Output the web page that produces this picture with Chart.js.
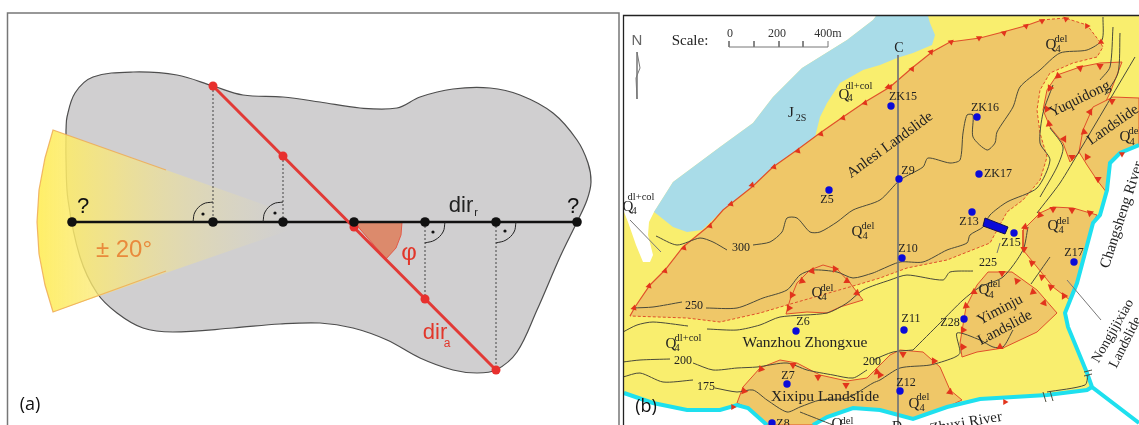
<!DOCTYPE html>
<html><head><meta charset="utf-8">
<style>html,body{margin:0;padding:0;background:#fff;overflow:hidden}canvas{display:block}</style>
<script src="https://cdn.jsdelivr.net/npm/chart.js@4"></script>
</head><body><canvas id="c" width="1139" height="425" style="width:1139px;height:425px"></canvas>
<script>
/* ---- panel (a) ---- */
const blobOutline=[[66,130],[67,117],[75,93],[93,77],[133,72],[177,75],[213,86],[243,95],[283,97],[320,102],[360,108],[397,108],[420,97],[453,89],[490,88],[520,95],[553,113],[577,140],[588,163],[591,182],[587,200],[577,222],[560,257],[537,310],[517,352],[496,370],[477,373],[453,370],[420,358],[387,340],[353,328],[320,323],[280,324],[233,328],[173,332],[143,328],[117,313],[97,293],[80,257],[68,200],[66,160],[66,130]];
const wedgeShape=[[313,222],[53,130],[45,158],[39,190],[37,222],[39,254],[45,285],[53,312],[313,222]];
const wedgeEdgeTop=[[166,170],[53,130],[45,158],[39,190],[37,222],[39,254],[45,285],[53,312],[166,271]];
const relDir=[[72,222],[577,222]];
const appDir=[[213,86],[496,370]];
const relPoints=[[72,222],[213,222],[283,222],[354,222],[425,222],[496,222],[577,222]];
const appPoints=[[213,86],[283,156],[354,227],[425,299],[496,370]];
const dropLines=[[[213,86],[213,222]],[[283,156],[283,222]],[[425,222],[425,299]],[[496,222],[496,370]]];
const phiSector=[[354,222],[402,222],[401,235],[396,248],[386,259],[354,222]];
const rightAngles=[[[193,222],[195,212],[203,204],[213,202]],[[263,222],[265,212],[273,204],[283,202]],[[445,222],[443,232],[435,240],[425,243]],[[516,222],[514,232],[506,240],[496,243]]];
const rightDots=[[203,214],[275,213],[433,232],[505,231]];
const frameA=[[7.5,430],[7.5,13],[619,13],[619,430]];
/* ---- panel (b) areas ---- */
const frameB=[[1145,15.5],[623.5,15.5],[623.5,430]];
const yellowBase=[[624,16],[1139,16],[1139,425],[624,425],[624,16]];
const whiteTop=[[624,16],[876,16],[873,20],[847,40],[802,68],[773,97],[753,123],[720,147],[673,182],[654,212],[649,222],[648,235],[653,255],[650,262],[643,262],[636,245],[628,222],[624,212],[624,16]];
const blueJ2S=[[654,212],[673,182],[720,147],[753,123],[773,97],[802,68],[847,40],[873,20],[876,16],[928,16],[930,23],[935,35],[932,45],[913,53],[897,58],[880,65],[863,70],[840,83],[827,103],[820,117],[815,137],[797,150],[773,167],[752,187],[730,205],[723,210],[702,230],[687,232],[673,227],[658,215],[654,212]];
const orangeMain=[[630,316],[635,307],[650,285],[665,270],[683,247],[710,225],[723,210],[752,187],[773,167],[797,150],[820,133],[843,117],[865,102],[890,87],[912,68],[932,52],[950,42],[980,38],[1003,32],[1025,26],[1042,20],[1065,18],[1087,25],[1100,42],[1103,47],[1097,57],[1073,63],[1050,73],[1040,90],[1037,110],[1040,133],[1047,157],[1040,180],[1023,200],[1007,212],[990,243],[947,260],[907,268],[880,278],[860,284],[787,305],[760,313],[720,322],[687,318],[630,316]];
const orangeLobe=[[786,314],[790,300],[797,283],[810,270],[823,265],[837,269],[850,283],[863,300],[840,307],[827,313],[807,312],[786,314]];
const orangeYuquidong=[[1122,62],[1100,63],[1080,67],[1057,75],[1047,90],[1043,110],[1050,127],[1063,143],[1070,162],[1080,152],[1093,127],[1110,93],[1122,62]];
const orangeRight=[[1139,98],[1113,97],[1093,107],[1083,130],[1079,152],[1087,165],[1097,180],[1107,193],[1110,163],[1120,153],[1139,145],[1139,98]];
const orangeZ17=[[1097,215],[1073,208],[1053,207],[1040,213],[1023,230],[1023,250],[1037,267],[1053,287],[1070,300],[1077,283],[1093,223],[1097,215]];
const orangeYiminju=[[988,272],[1012,272],[1037,290],[1057,313],[1037,332],[1003,348],[977,352],[962,357],[960,343],[966,307],[977,285],[988,272]];
const orangeXixipu=[[737,403],[743,387],[760,368],[780,360],[797,363],[820,375],[847,381],[867,378],[880,365],[890,355],[900,350],[923,352],[940,367],[950,390],[962,400],[947,407],[913,419],[880,410],[853,408],[827,417],[813,425],[767,425],[748,408],[737,403]];
const whiteRiverRight=[[1139,145],[1120,153],[1110,163],[1107,190],[1100,215],[1093,223],[1077,283],[1065,313],[1068,327],[1087,373],[1092,387],[1139,423],[1139,145]];
const whiteBottomLeft=[[624,393],[653,403],[687,410],[720,410],[737,405],[748,408],[767,425],[624,425],[624,393]];
const whiteBottomRight=[[813,425],[827,417],[853,408],[880,410],[913,419],[947,407],[980,399],[1047,395],[1087,390],[1092,387],[1139,423],[1139,425],[813,425]];
const cyanLeft=[[624,393],[653,403],[687,410],[720,410],[737,405],[748,408],[767,425]];
const cyanBottom=[[813,425],[827,417],[853,408],[880,410],[913,419],[947,407],[980,399],[1047,395],[1087,390],[1092,387]];
const cyanRight=[[1139,145],[1120,153],[1110,163],[1107,190],[1100,215],[1093,223],[1077,283],[1065,313],[1068,327],[1087,373],[1092,387],[1139,423]];
const gaugeBar=[[985,218],[1008,227],[1005,234],[983,226],[985,218]];
/* ---- panel (b) lines ---- */
const contours=[
 [[656,236],[677,245],[700,238],[713,242],[727,250]],
 [[753,245],[770,242],[782,232],[787,218],[797,218],[810,232],[820,232],[837,222],[853,210],[880,200],[900,180],[923,167],[928,158],[950,163],[960,160],[963,133],[967,115],[973,115],[973,137],[987,150],[995,143],[997,132],[1013,107],[1020,87],[1040,70],[1060,53],[1087,50],[1102,40],[1103,17]],
 [[633,308],[653,307],[682,302]],
 [[706,308],[737,308],[763,298],[787,290],[800,275],[813,270],[837,272],[853,278],[873,273],[880,270],[900,262],[923,262],[947,250],[967,243],[970,235],[983,227],[990,215],[1007,202],[1037,188],[1050,160],[1040,143],[1043,113],[1053,85]],
 [[623,332],[637,325],[653,322],[688,326]],
 [[707,329],[737,330],[760,325],[780,317],[827,313],[847,303],[863,290],[890,280],[907,275],[943,280],[950,272],[973,271]],
 [[913,350],[940,323],[963,300],[980,287],[1003,277],[1023,250],[1028,227]],
 [[1031,284],[1050,257]],
 [[623,362],[640,360],[670,359]],
 [[693,363],[713,370],[737,368],[757,367],[787,363],[807,370],[833,375],[853,378],[867,370]],
 [[873,360],[893,352],[913,350]],
 [[623,377],[640,373],[663,382],[693,380]],
 [[715,388],[737,392],[753,390],[767,400],[787,412],[800,407],[820,400],[847,398],[873,383],[880,380],[900,368],[930,365],[953,358],[960,353],[957,333],[980,340],[993,347],[1003,347],[1013,330]],
 [[800,412],[833,425]],
 [[1135,57],[1080,150],[1060,183],[1037,213]],
 [[1113,27],[1110,67],[1100,80]],
 [[1120,33],[1118,73],[1105,95]],
 [[1050,128],[1063,147],[1057,167],[1040,197]],
 [[1047,392],[1085,385],[1088,375]],
 [[1043,392],[1046,402]],[[1050,391],[1053,401]],[[1084,372],[1092,370]],[[1084,376],[1092,374]]
];
const grayLines=[[[898,55],[898,425]],[[630,220],[661,252]],[[1067,280],[1101,320]],[[1000,243],[997,253]]];
const scaleBar=[[729,41],[729,47],[828,47],[828,41]];
const scaleTicks=[[[754,41],[754,47]],[[779,41],[779,47]],[[803,41],[803,47]]];
const northArrow=[[637,52],[637,99]];
const northHead=[[637,52],[640,68],[636,78],[637,99]];
/* ---- marks ---- */
const slideEdgeTicks=[[731,204,135],[752,185,135],[774,167,135],[798,151,135],[821,134,135],[843,118,135],[865,103,135],[888,87,135],[890,87,150],[912,69,150],[931,52,160],[951,42,170],[979,38,180],[1004,33,170],[1026,26,170],[1042,21,180],[1066,19,190],[1087,26,210],[1101,42,240],[710,226,135],[684,248,135],[665,271,135],[649,286,135],[634,308,135]];
const slideInnerTicks=[[1050,88,90],[1058,76,110],[1080,68,170],[1100,66,180],[1047,109,90],[1049,124,110],[1064,139,150],[1072,157,180],[1112,101,180],[1090,112,150],[1084,132,110],[1087,157,90],[1098,179,60],[1053,209,180],[1072,210,180],[1090,213,190],[1040,215,220],[1025,227,250],[1024,249,300],[1032,263,310],[1042,277,310],[1051,287,310],[1064,296,330],[1002,273,180],[1017,281,200],[1033,292,230],[1044,303,260],[1000,347,0],[963,347,90],[963,330,90],[966,306,110],[974,292,120],[789,308,90],[792,295,90],[802,281,110],[812,271,140],[835,269,210],[847,281,240],[857,293,250],[744,391,100],[761,369,100],[793,365,180],[818,377,180],[846,385,180],[877,372,230],[903,354,180],[934,361,210],[950,392,250],[880,375,90]];
const riverFlow=[[733,407,90],[1005,402,90],[1122,154,300]];
const stationDots=[[829,190],[891,106],[977,117],[899,179],[979,174],[972,212],[1014,233],[902,258],[1074,262],[796,331],[904,330],[964,319],[787,384],[900,391],[772,423]];
/* ---- text: [text, x, y, size, rotation, colour, family, align] ---- */
const SERIF='"Liberation Serif"',SANS='"Liberation Sans"',OPEN='"Open Sans"';
const panelTexts=[
 ['?',83,207,22,0,'#111',SANS],['± 20°',124,250,24,0,'#e98a3c',SANS],['dir',461,206,22,0,'#222',SANS],['r',476,213,11,0,'#222',SANS],
 ['?',573,207,22,0,'#111',SANS],['φ',409,253,24,0,'#e2362a',SANS],['dir',435,333,22,0,'#e2362a',SANS],['a',447,344,12,0,'#e2362a',SANS],
 ['(a)',30,405,18,0,'#111',OPEN],['(b)',646,407,18,0,'#111',OPEN]];
const mapTexts=[
 ['Scale:',690,41,15,0,'#222',SERIF],['N',637,41,15,0,'#666',SANS],['0',730,34,12,0,'#333',SERIF],['200',777,34,12,0,'#333',SERIF],['400m',828,34,12,0,'#333',SERIF],
 ['C',899,48,14,0,'#222',SERIF],['D',897,427,14,0,'#222',SERIF],['J',791,113,15,0,'#222',SERIF],['2S',801,118,10,0,'#222',SERIF],
 ['Anlesi Landslide',890,145,15,-36,'#222',SERIF],['Yuquidong',1080,99,15,-26,'#222',SERIF],['Landslide',1113,125,15,-35,'#222',SERIF],
 ['Changsheng River',1122,215,15,-72,'#222',SERIF],['Nongjijixiao',1113,331,14,-60,'#222',SERIF],['Landslide',1113,367,14,-63,'#222',SERIF,'left'],
 ['Wanzhou Zhongxue',805,343,15.5,0,'#222',SERIF],['Xixipu Landslide',825,397,15.5,0,'#222',SERIF],['Yiminju',1000,310,15,-28,'#222',SERIF],['Landslide',1005,328,15,-28,'#222',SERIF],['Zhuxi River',966,423,15,-10,'#222',SERIF],
 ['300',741,248,12,0,'#222',SERIF],['250',694,306,12,0,'#222',SERIF],['200',683,361,12,0,'#222',SERIF],['175',706,387,12,0,'#222',SERIF],['200',872,362,12,0,'#222',SERIF],['225',988,263,12,0,'#222',SERIF]];
const stationTexts=[['Z5',827,200],['ZK15',903,97],['ZK16',985,108],['Z9',908,171],['ZK17',998,174],['Z13',969,222],['Z15',1011,243],['Z10',908,249],['Z17',1074,253],['Z6',803,322],['Z11',911,319],['Z28',950,323],['Z7',788,376],['Z12',906,383],['Z8',783,424]];
/* [Q x, Q y, sup text, sup x, sup y, sub x, sub y] */
const unitLabels=[[844,95,'dl+col',859,86,850,98],[628,207,'dl+col',641,197,634,211],[1051,45,'del',1061,39,1058,49],[1125,137,'del',1135,131,1132,142],[857,232,'del',868,226,865,236],[817,293,'del',827,288,824,297],[671,344,'dl+col',688,338,677,348],[1053,226,'del',1063,221,1061,230],[984,290,'del',994,284,991,295],[914,404,'del',923,397,922,408],[837,424,'del',847,421,843,430]];

const ORANGE='#efc768',YELLOW='#f9ee6e',BLUE='#a9dce8',CYAN='#1ee0ee',RED='#e0502a',DARK='#4a4a3a';
const xy=a=>a.map(p=>({x:p[0],y:p[1]}));
const sets=[];
function line(pts,o){sets.push(Object.assign({data:xy(pts),showLine:true,pointRadius:0,borderColor:'rgba(0,0,0,0)',borderWidth:1,tension:0,fill:false},o));}
function area(pts,col,o){line(pts,Object.assign({backgroundColor:col,fill:'shape'},o));}
function pts(arr,col,r,style){sets.push({data:xy(arr),showLine:false,pointRadius:r,pointBackgroundColor:col,pointBorderColor:col,pointBorderWidth:0,pointStyle:style||'circle',pointRotation:arr.map(p=>p[2]||0)});}

/* (a) */
line(frameA,{borderColor:'#777',borderWidth:1.5});
area(blobOutline,'#d0cfd0',{borderColor:'#4e4e4e',borderWidth:1.2,tension:.35});
area(wedgeShape,ctx=>{const c=ctx.chart,g=c.ctx.createLinearGradient(37,0,290,0);
 g.addColorStop(0,'rgba(255,238,95,.95)');g.addColorStop(.3,'rgba(250,232,120,.72)');g.addColorStop(.65,'rgba(240,226,150,.4)');g.addColorStop(1,'rgba(235,225,170,0)');return g;});
line(wedgeEdgeTop,{borderColor:'rgba(238,170,85,.85)',borderWidth:1.2});
dropLines.forEach(l=>line(l,{borderColor:'#444',borderWidth:1,borderDash:[2,2]}));
area(phiSector,'#dc8a6c',{borderColor:'#e25a48',borderWidth:1});
line(relDir,{borderColor:'#111',borderWidth:2.6});
rightAngles.forEach(l=>line(l,{borderColor:'#222',borderWidth:1,tension:.4}));
pts(rightDots,'#111',1.6);
line(appDir,{borderColor:'#e23a36',borderWidth:3});
pts(appPoints,'#e8302e',4.5);
pts(relPoints,'#111',4.8);
/* (b) */
area(yellowBase,YELLOW);
area(whiteTop,'#fff');
area(blueJ2S,BLUE);
area(orangeMain,ORANGE);
area(orangeLobe,ORANGE,{borderColor:RED,borderWidth:1});
area(orangeYuquidong,ORANGE,{borderColor:RED,borderWidth:1});
area(orangeRight,ORANGE,{borderColor:RED,borderWidth:1});
area(orangeZ17,ORANGE,{borderColor:RED,borderWidth:1});
area(orangeYiminju,ORANGE,{borderColor:RED,borderWidth:1});
area(orangeXixipu,ORANGE,{borderColor:RED,borderWidth:1});
line(orangeMain.slice(0,21),{borderColor:RED,borderWidth:1.2});
line(orangeMain.slice(20),{borderColor:RED,borderWidth:1,borderDash:[3,2]});
area(whiteRiverRight,'#fff');area(whiteBottomLeft,'#fff');area(whiteBottomRight,'#fff');
[cyanLeft,cyanBottom,cyanRight].forEach(l=>line(l,{borderColor:CYAN,borderWidth:4}));
contours.forEach(l=>line(l,{borderColor:DARK,borderWidth:1,tension:.25}));
grayLines.forEach(l=>line(l,{borderColor:'#777',borderWidth:1}));
line(scaleBar,{borderColor:'#777',borderWidth:1});
scaleTicks.forEach(l=>line(l,{borderColor:'#777',borderWidth:1}));
line(northArrow,{borderColor:'#888',borderWidth:1});line(northHead,{borderColor:'#777',borderWidth:1});
pts(slideEdgeTicks,'#e2341c',3.6,'triangle');
pts(slideInnerTicks,'#e2341c',4.2,'triangle');
pts(riverFlow,'#e2341c',3.5,'triangle');
pts(stationDots,'#0b0bd8',3.7);
area(gaugeBar,'#0b0bd8',{borderColor:'#101050',borderWidth:1});
line(frameB,{borderColor:'#222',borderWidth:1.3});
const n=sets.length;sets.forEach((d,i)=>d.order=n-i);

const textPlugin={id:'texts',afterDatasetsDraw(ch){const c=ch.ctx,X=ch.scales.x,Y=ch.scales.y;
 const put=(t,x,y,s,r,col,fam,al)=>{c.save();c.translate(X.getPixelForValue(x),Y.getPixelForValue(y));c.rotate((r||0)*Math.PI/180);
  c.font=s+'px '+fam;c.fillStyle=col;c.textAlign=al||'center';c.textBaseline='middle';c.fillText(t,0,0);c.restore();};
 panelTexts.concat(mapTexts).forEach(a=>put(...a));
 stationTexts.forEach(a=>put(a[0],a[1],a[2],12,0,'#222',SERIF));
 unitLabels.forEach(a=>{put('Q',a[0],a[1],15,0,'#222',SERIF);put(a[2],a[3],a[4],10.5,0,'#222',SERIF);put('4',a[5],a[6],10.5,0,'#222',SERIF);});
}};
new Chart(document.getElementById('c'),{type:'scatter',data:{datasets:sets},plugins:[textPlugin],options:{
 responsive:false,animation:false,devicePixelRatio:1,layout:{padding:0,autoPadding:false},
 plugins:{legend:{display:false},tooltip:{enabled:false},title:{display:false}},events:[],
 scales:{x:{type:'linear',min:0,max:1139,display:false},y:{type:'linear',min:0,max:425,reverse:true,display:false}}}});
</script></body></html>
